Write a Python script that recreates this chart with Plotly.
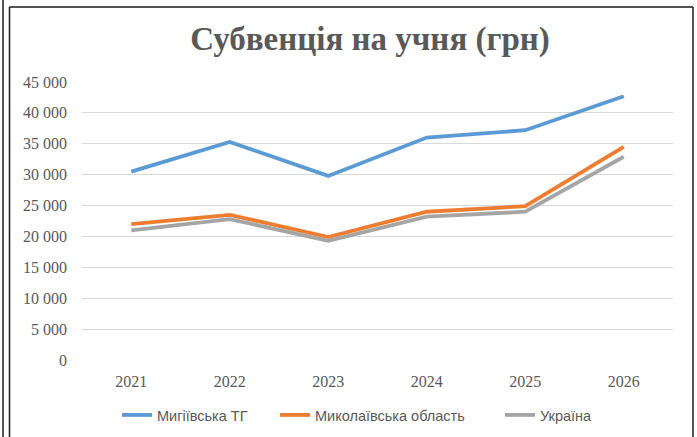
import plotly.graph_objects as go

years = ["2021", "2022", "2023", "2024", "2025", "2026"]
mygiivska = [30500, 35300, 29800, 36000, 37200, 42700]
mykolaivska = [22000, 23500, 19900, 24000, 24900, 34500]
ukraine = [21000, 22800, 19300, 23200, 24000, 32900]
series_names = ["Мигіївська ТГ", "Миколаївська область", "Україна"]
colors = ["#5B9BD5", "#ED7D31", "#A5A5A5"]
y_tickvals = [0, 5000, 10000, 15000, 20000, 25000, 30000, 35000, 40000, 45000]
y_ticktext = ["0", "5 000", "10 000", "15 000", "20 000", "25 000", "30 000", "35 000", "40 000", "45 000"]

W, H = 697, 437
L, R, T, B = 82, 24, 82, 77
pw, ph = W - L - R, H - T - B

def px(x):
    return (x - L) / pw

def py(y):
    return (H - B - y) / ph

legend_ids = ["legend", "legend2", "legend3"]
legend_text_x = [159, 317, 542]

fig = go.Figure()
for name, vals, c, lg in zip(series_names, [mygiivska, mykolaivska, ukraine], colors, legend_ids):
    fig.add_trace(go.Scatter(x=years, y=vals, name=name, mode="lines", legend=lg,
                             line=dict(color=c, width=3.8)))

legend_font = dict(family="Liberation Sans", size=14.5, color="#595959")
legends = {}
for lg, tx in zip(legend_ids, legend_text_x):
    legends[lg] = dict(orientation="h", x=px(tx - 42), xanchor="left", xref="paper",
                       y=py(415), yanchor="middle", yref="paper",
                       font=legend_font, bgcolor="rgba(0,0,0,0)")

fig.update_layout(
    width=W, height=H,
    margin=dict(l=L, r=R, t=T, b=B, pad=0, autoexpand=False),
    paper_bgcolor="white", plot_bgcolor="white",
    title=dict(text="<b>Субвенція на учня (грн)</b>", x=px(370), xref="paper",
               xanchor="center", y=1 - 38 / H, yanchor="middle",
               font=dict(family="Liberation Serif", size=33, color="#595959")),
    showlegend=True,
    **legends,
    xaxis=dict(type="category", showgrid=False, zeroline=False, showline=False,
               ticks="", tickfont=dict(family="Liberation Serif", size=16, color="#595959"),
               ticklabelstandoff=10, range=[-0.5, 5.5]),
    yaxis=dict(range=[0, 45000], tickvals=y_tickvals, ticktext=y_ticktext,
               showgrid=True, gridcolor="#D9D9D9", gridwidth=1, zeroline=False,
               showline=False, ticks="",
               tickfont=dict(family="Liberation Serif", size=16, color="#595959"),
               ticklabelstandoff=14),
)

# frame lines
line_style = dict(color="#1a1a1a", width=1.5)
fig.add_shape(type="line", xref="paper", yref="paper", x0=px(3), x1=px(3), y0=py(0), y1=py(437), line=line_style)
fig.add_shape(type="line", xref="paper", yref="paper", x0=px(9.5), x1=px(9.5), y0=py(7), y1=py(437), line=line_style)
fig.add_shape(type="line", xref="paper", yref="paper", x0=px(9.5), x1=px(693), y0=py(7), y1=py(7), line=line_style)
fig.add_shape(type="line", xref="paper", yref="paper", x0=px(693), x1=px(693), y0=py(7), y1=py(437), line=line_style)

fig.write_html("out.html", config={"displayModeBar": False},
               post_script="document.body.style.margin='0';document.body.style.overflow='hidden';")
